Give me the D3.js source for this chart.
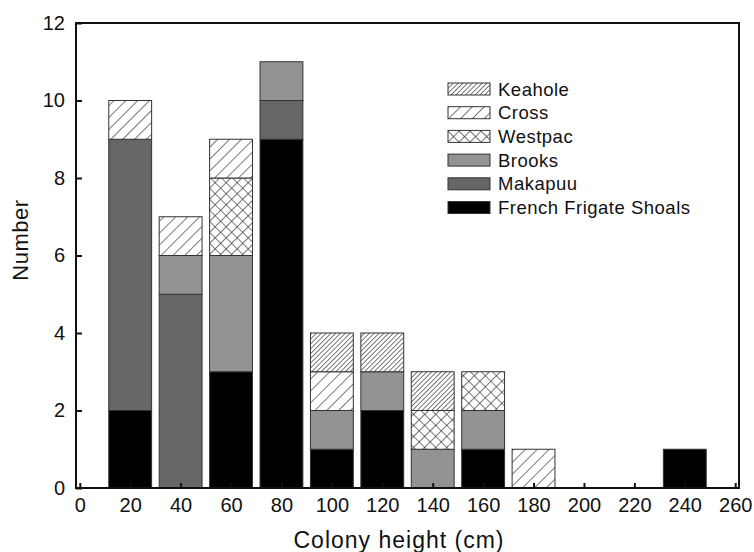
<!DOCTYPE html>
<html>
<head>
	<meta charset="utf-8">
	<title>Colony height</title>
	<script src="https://d3js.org/d3.v7.min.js"></script>
	<style>
		body { margin: 0; background: #fff; }
		text { font-family: "Liberation Sans", Arial, sans-serif; fill: #111; }
	</style>
</head>
<body>
	<svg id="chart" width="754" height="552"></svg>
	<script>
		// data (count per 20 cm height class)
		var bins = [20, 40, 60, 80, 100, 120, 140, 160, 180, 240];
		var ffs = [2, 0, 3, 9, 1, 2, 0, 1, 0, 1];
		var makapuu = [7, 5, 0, 1, 0, 0, 0, 0, 0, 0];
		var brooks = [0, 1, 3, 1, 1, 1, 1, 1, 0, 0];
		var westpac = [0, 0, 2, 0, 0, 0, 1, 1, 0, 0];
		var cross = [1, 1, 1, 0, 1, 0, 0, 0, 1, 0];
		var keahole = [0, 0, 0, 0, 1, 1, 1, 0, 0, 0];
		var xTicks = [0, 20, 40, 60, 80, 100, 120, 140, 160, 180, 200, 220, 240, 260];
		var yTicks = [0, 2, 4, 6, 8, 10, 12];
		var legendOrder = ["Keahole", "Cross", "Westpac", "Brooks", "Makapuu", "French Frigate Shoals"];

		var series = [
			{ key: "French Frigate Shoals", values: ffs, fill: "#000" },
			{ key: "Makapuu", values: makapuu, fill: "#666" },
			{ key: "Brooks", values: brooks, fill: "#939393" },
			{ key: "Westpac", values: westpac, fill: "url(#westpac)" },
			{ key: "Cross", values: cross, fill: "url(#cross)" },
			{ key: "Keahole", values: keahole, fill: "url(#keahole)" }
		];
		var fillOf = {};
		series.forEach(function (s) { fillOf[s.key] = s.fill; });

		var rows = bins.map(function (b, i) {
			var r = { bin: b };
			series.forEach(function (s) { r[s.key] = s.values[i]; });
			return r;
		});

		var svg = d3.select("#chart");
		var plotLeft = 76, plotRight = 739, plotTop = 23, plotBottom = 488;

		var x = d3.scaleLinear().domain([-1.5, 261.5]).range([plotLeft, plotRight]);
		var y = d3.scaleLinear().domain([0, 12]).range([plotBottom, plotTop]);
		var barW = x(17) - x(0);

		// hatch patterns
		var defs = svg.append("defs");
		function hatch(id, gap, both) {
			var p = defs.append("pattern")
				.attr("id", id)
				.attr("patternUnits", "userSpaceOnUse")
				.attr("width", gap).attr("height", gap)
				.attr("patternTransform", "rotate(45)");
			p.append("rect").attr("width", gap).attr("height", gap).attr("fill", "#fff");
			p.append("line").attr("x1", 0).attr("y1", 0).attr("x2", 0).attr("y2", gap)
				.attr("stroke", "#222").attr("stroke-width", 1.2);
			if (both) {
				p.append("line").attr("x1", 0).attr("y1", 0).attr("x2", gap).attr("y2", 0)
					.attr("stroke", "#222").attr("stroke-width", 1.2);
			}
		}
		hatch("keahole", 3.4, false);
		hatch("cross", 8.4, false);
		hatch("westpac", 7.8, true);

		var stack = d3.stack().keys(series.map(function (s) { return s.key; }));
		var layers = stack(rows);

		svg.append("g").selectAll("g")
			.data(layers)
			.enter()
			.append("g")
			.attr("fill", function (d) { return fillOf[d.key]; })
			.selectAll("rect")
			.data(function (d) { return d.filter(function (v) { return v[1] > v[0]; }); })
			.enter()
			.append("rect")
			.attr("x", function (d) { return x(d.data.bin) - barW / 2; })
			.attr("width", barW)
			.attr("y", function (d) { return y(d[1]); })
			.attr("height", function (d) { return y(d[0]) - y(d[1]); })
			.attr("stroke", "#333")
			.attr("stroke-width", 1);

		// frame
		svg.append("rect")
			.attr("x", plotLeft).attr("y", plotTop)
			.attr("width", plotRight - plotLeft).attr("height", plotBottom - plotTop)
			.attr("fill", "none").attr("stroke", "#111").attr("stroke-width", 2);

		// axes with inward ticks
		var xAxis = d3.axisBottom(x).tickValues(xTicks).tickSizeInner(-5).tickSizeOuter(0).tickPadding(10);
		var gx = svg.append("g").attr("transform", "translate(0," + plotBottom + ")").call(xAxis);
		gx.select(".domain").remove();
		gx.selectAll("line").attr("stroke", "#111").attr("stroke-width", 2);
		gx.selectAll("text").attr("font-size", 20).attr("fill", "#111");

		var yAxis = d3.axisLeft(y).tickValues(yTicks).tickSizeInner(-6).tickSizeOuter(0).tickPadding(11);
		var gy = svg.append("g").attr("transform", "translate(" + plotLeft + ",0)").call(yAxis);
		gy.select(".domain").remove();
		gy.selectAll("line").attr("stroke", "#111").attr("stroke-width", 2);
		gy.selectAll("text").attr("font-size", 20).attr("fill", "#111");

		svg.append("text")
			.attr("x", 399)
			.attr("y", 548)
			.attr("text-anchor", "middle")
			.attr("font-size", 23)
			.attr("letter-spacing", 1)
			.text("Colony height (cm)");

		svg.append("text")
			.attr("transform", "translate(28,240) rotate(-90)")
			.attr("text-anchor", "middle")
			.attr("font-size", 22)
			.attr("letter-spacing", 0.5)
			.text("Number");

		// legend
		var legend = svg.append("g").attr("transform", "translate(448,83)");
		var item = legend.selectAll("g")
			.data(legendOrder)
			.enter()
			.append("g")
			.attr("transform", function (d, i) { return "translate(0," + (i * 23.7) + ")"; });
		item.append("rect")
			.attr("width", 42).attr("height", 12)
			.attr("fill", function (d) { return fillOf[d]; })
			.attr("stroke", "#333").attr("stroke-width", 1);
		item.append("text")
			.attr("x", 50).attr("y", 12.5)
			.attr("font-size", 18.5)
			.attr("letter-spacing", 0.5)
			.text(function (d) { return d; });
	</script>
</body>
</html>
